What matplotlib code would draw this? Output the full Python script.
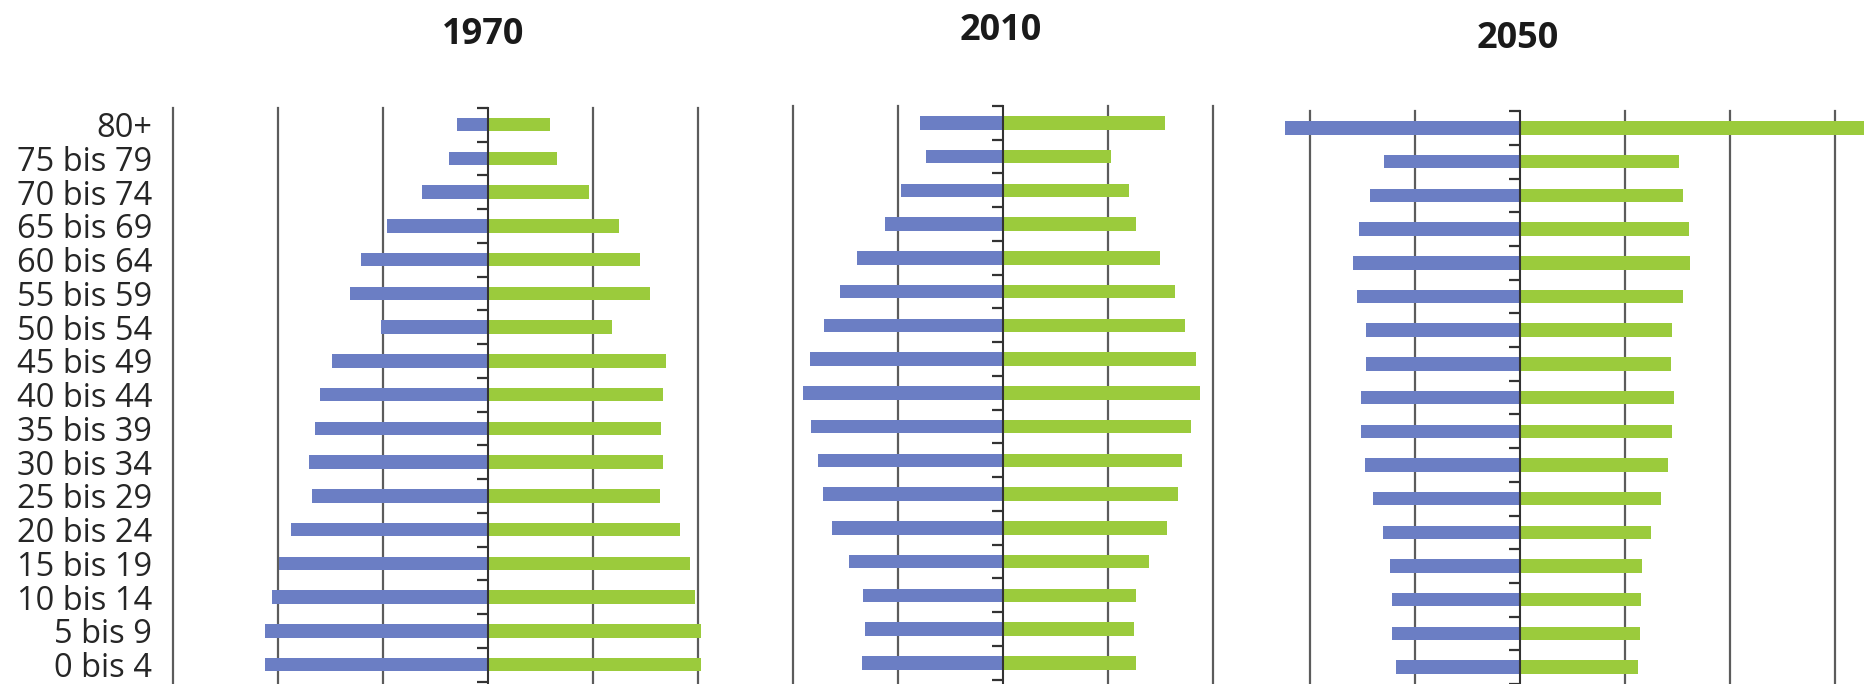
import numpy as np
import matplotlib
matplotlib.use("Agg")
import matplotlib.pyplot as plt

# age groups from oldest (top) to youngest (bottom)
age_groups = [
    "80+", "75 bis 79", "70 bis 74", "65 bis 69", "60 bis 64", "55 bis 59",
    "50 bis 54", "45 bis 49", "40 bis 44", "35 bis 39", "30 bis 34",
    "25 bis 29", "20 bis 24", "15 bis 19", "10 bis 14", "5 bis 9", "0 bis 4",
]

# share of total population in percent
men_1970 = [0.60, 0.75, 1.26, 1.93, 2.41, 2.62, 2.04, 2.98, 3.20, 3.30, 3.41,
            3.36, 3.76, 3.99, 4.12, 4.25, 4.25]
women_1970 = [1.18, 1.32, 1.93, 2.49, 2.89, 3.09, 2.36, 3.39, 3.34, 3.29, 3.34,
              3.27, 3.65, 3.84, 3.95, 4.06, 4.06]

men_2010 = [1.58, 1.48, 1.96, 2.26, 2.79, 3.11, 3.42, 3.68, 3.82, 3.67, 3.54,
            3.44, 3.26, 2.94, 2.67, 2.63, 2.69]
women_2010 = [3.07, 2.05, 2.40, 2.52, 2.98, 3.26, 3.46, 3.67, 3.74, 3.57, 3.40,
              3.32, 3.11, 2.78, 2.52, 2.48, 2.52]

men_2050 = [4.47, 2.59, 2.85, 3.07, 3.19, 3.10, 2.93, 2.93, 3.03, 3.02, 2.95,
            2.80, 2.61, 2.47, 2.44, 2.43, 2.37]
women_2050 = [6.56, 3.02, 3.11, 3.21, 3.24, 3.10, 2.90, 2.87, 2.94, 2.90, 2.81,
              2.68, 2.49, 2.33, 2.31, 2.29, 2.24]

W, H = 1869, 684
ROW = 33.75   # px per age group
UNIT = 52.5   # px per percentage point

BLUE = "#6b7ec4"
GREEN = "#9bcb3c"
GRID = "#5c5c5c"
AXIS = "#333333"

plt.rcParams["font.family"] = ["Open Sans", "DejaVu Sans"]

fig = plt.figure(figsize=(W / 100, H / 100), dpi=100)

# title, men, women, zero-line x px, first row y px, xlim, gridlines, title x px, title baseline px
panels = [
    ("1970", men_1970, women_1970, 488.0, 124.7, (-6, 4.2), [-6, -4, -2, 2, 4], 483, 44),
    ("2010", men_2010, women_2010, 1003.4, 122.8, (-4, 4), [-4, -2, 2, 4], 1001, 40),
    ("2050", men_2050, women_2050, 1520.0, 128.0, (-4.6, 6.65), [-4, -2, 2, 4, 6], 1518, 48),
]

y = np.arange(len(age_groups))

for i, (title, men, women, x0, row0, xlim, grid, tx, ty) in enumerate(panels):
    left = x0 + xlim[0] * UNIT
    width = (xlim[1] - xlim[0]) * UNIT
    top = row0 - ROW / 2
    ax = fig.add_axes([left / W, 0, width / W, (H - top) / H])

    ax.barh(y, -np.array(men), height=0.4, color=BLUE, zorder=2)
    ax.barh(y, women, height=0.4, color=GREEN, zorder=2)
    for g in grid:
        ax.axvline(g, color=GRID, lw=1.6, zorder=1, clip_on=False)

    ax.set_xlim(*xlim)
    ax.set_ylim(-0.5 + (H - top) / ROW, -0.5)

    for side in ["left", "top", "bottom"]:
        ax.spines[side].set_visible(False)
    ax.spines["right"].set_position(("data", 0))
    ax.spines["right"].set_color(AXIS)
    ax.spines["right"].set_linewidth(1.5)

    ax.set_xticks([])
    ax.set_yticks(y)
    ax.set_yticks(np.arange(-0.5, len(age_groups)), minor=True)
    if i == 0:
        ax.set_yticklabels(age_groups)
    else:
        ax.set_yticklabels([])
    ax.tick_params(axis="y", which="major", left=True, right=False, length=0,
                   pad=15, labelsize=23.5, labelcolor="#262626")
    ax.tick_params(axis="y", which="minor", left=False, right=True,
                   direction="in", length=8, width=1.6, color=AXIS)

    fig.text(tx / W, 1 - ty / H, title, ha="center", va="baseline",
             fontsize=26, fontweight="bold", color="#1a1a1a")

fig.savefig("out.png", dpi=100)
